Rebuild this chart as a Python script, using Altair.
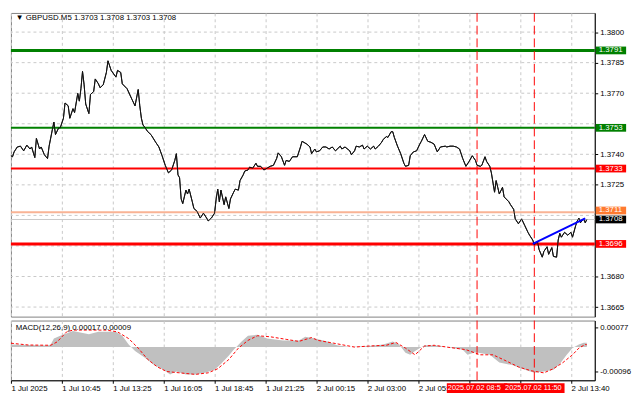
import json
import altair as alt
import pandas as pd

# ---------------- data ----------------
PRICE = [(0,1.37393),(1,1.37388),(2,1.37412),(4,1.37436),(6,1.37440),(8,1.37417),(10,1.37445),(12,1.37426),(13,1.37436),(15,1.37384),(16,1.37478),(18,1.37426),(19,1.37436),(21,1.37398),(23,1.37379),(24,1.37440),(26,1.37520),(27,1.37558),(28,1.37497),(30,1.37530),(31,1.37530),(33,1.37577),(34,1.37652),(36,1.37638),(37,1.37577),(39,1.37624),(40,1.37605),(42,1.37699),(43,1.37661),(44,1.37722),(45,1.37807),(46,1.37741),(47,1.37647),(49,1.37600),(50,1.37694),(52,1.37708),(53,1.37770),(55,1.37746),(56,1.37727),(58,1.37741),(60,1.37802),(61,1.37859),(63,1.37812),(66,1.37779),(67,1.37812),(69,1.37802),(70,1.37746),(73,1.37722),(76,1.37671),(78,1.37638),(80,1.37718),(81,1.37638),(82,1.37577),(83,1.37544),(84,1.37534),(86,1.37511),(88,1.37497),(91,1.37459),(93,1.37436),(95,1.37393),(97,1.37346),(99,1.37309),(101,1.37323),(103,1.37370),(104,1.37403),(105,1.37299),(106,1.37285),(107,1.37181),(108,1.37158),(110,1.37224),(111,1.37205),(112,1.37229),(114,1.37167),(115,1.37134),(117,1.37120),(119,1.37087),(121,1.37111),(123,1.37087),(124,1.37073),(126,1.37087),(128,1.37111),(129,1.37181),(130,1.37229),(131,1.37167),(132,1.37224),(134,1.37153),(135,1.37191),(137,1.37134),(138,1.37181),(140,1.37214),(141,1.37229),(143,1.37224),(144,1.37271),(146,1.37299),(147,1.37318),(149,1.37323),(150,1.37337),(152,1.37332),(154,1.37356),(155,1.37341),(157,1.37341),(159,1.37323),(161,1.37332),(163,1.37341),(165,1.37346),(167,1.37379),(168,1.37407),(170,1.37388),(172,1.37346),(173,1.37370),(175,1.37365),(177,1.37388),(180,1.37388),(182,1.37436),(183,1.37464),(186,1.37450),(188,1.37436),(189,1.37403),(191,1.37426),(192,1.37412),(194,1.37417),(196,1.37436),(198,1.37436),(200,1.37426),(202,1.37436),(204,1.37417),(207,1.37440),(208,1.37426),(210,1.37436),(213,1.37417),(214,1.37398),(216,1.37417),(217,1.37440),(219,1.37436),(221,1.37445),(222,1.37426),(224,1.37440),(226,1.37426),(228,1.37440),(229,1.37426),(231,1.37440),(233,1.37459),(234,1.37473),(236,1.37487),(237,1.37483),(239,1.37511),(240,1.37511),(241,1.37483),(243,1.37440),(245,1.37403),(247,1.37356),(248,1.37341),(250,1.37346),(251,1.37393),(253,1.37412),(255,1.37417),(257,1.37450),(258,1.37464),(260,1.37497),(262,1.37464),(264,1.37459),(266,1.37450),(268,1.37412),(270,1.37436),(273,1.37440),(274,1.37436),(276,1.37440),(278,1.37440),(280,1.37436),(282,1.37426),(284,1.37379),(286,1.37341),(288,1.37365),(290,1.37393),(292,1.37370),(293,1.37346),(295,1.37341),(296,1.37346),(298,1.37388),(299,1.37365),(301,1.37341),(302,1.37309),(304,1.37214),(305,1.37271),(306,1.37238),(307,1.37205),(309,1.37238),(310,1.37191),(313,1.37167),(314,1.37153),(316,1.37130),(317,1.37083),(319,1.37059),(321,1.37083),(323,1.37050),(325,1.37017),(326,1.37003),(328,1.36979),(329,1.36956),(331,1.36970),(332,1.36932),(334,1.36895),(335,1.36923),(337,1.36946),(338,1.36909),(340,1.36942),(341,1.36899),(343,1.36895),(344,1.36979),(345,1.37012),(346,1.36993),(348,1.37017),(350,1.37003),(352,1.37017),(353,1.36993),(355,1.37050),(356,1.37073),(357,1.37087),(358,1.37064),(360,1.37083),(361,1.37064),(362,1.37080)]

HIST = [(0,0.00010),(11,0.00008),(23,0.00006),(25,0.00010),(27,0.00033),(31,0.00044),(39,0.00062),(49,0.00050),(55,0.00060),(66,0.00060),(70,0.00044),(74,0.00010),(78,-0.00015),(84,-0.00040),(90,-0.00070),(96,-0.00088),(100,-0.00106),(104,-0.00095),(110,-0.00106),(116,-0.00106),(122,-0.00100),(128,-0.00088),(132,-0.00066),(137,-0.00033),(140,-0.00010),(145,0.00022),(149,0.00044),(155,0.00048),(161,0.00033),(171,0.00026),(181,0.00026),(185,0.00040),(191,0.00033),(199,0.00022),(205,0.00007),(213,0.00000),(225,0.00004),(234,0.00010),(240,0.00022),(244,0.00010),(248,-0.00022),(251,-0.00030),(254,-0.00015),(260,0.00007),(266,0.00007),(274,0.00000),(284,-0.00010),(287,-0.00030),(292,-0.00020),(301,-0.00030),(307,-0.00060),(315,-0.00070),(323,-0.00088),(329,-0.00100),(335,-0.00095),(341,-0.00088),(345,-0.00066),(349,-0.00033),(353,-0.00004),(357,0.00010),(360,0.00017),(362,0.00017)]

SIGNAL = [(0,0.00015),(11,0.00008),(25,0.00007),(29,0.00020),(35,0.00059),(39,0.00066),(52,0.00066),(60,0.00066),(67,0.00059),(74,0.00033),(80,-0.00004),(86,-0.00048),(92,-0.00077),(98,-0.00095),(106,-0.00100),(116,-0.00106),(124,-0.00100),(130,-0.00084),(137,-0.00048),(143,-0.00004),(149,0.00026),(155,0.00044),(163,0.00040),(173,0.00030),(181,0.00022),(189,0.00037),(193,0.00026),(203,0.00015),(216,0.00000),(225,0.00004),(236,0.00007),(242,0.00018),(248,-0.00004),(254,-0.00030),(260,0.00004),(266,0.00007),(274,0.00000),(286,-0.00010),(295,-0.00030),(303,-0.00030),(310,-0.00050),(319,-0.00077),(327,-0.00092),(335,-0.00100),(341,-0.00084),(347,-0.00060),(353,-0.00030),(357,-0.00004),(361,0.00010),(362,0.00009)]

LEVELS = [1.3791, 1.3753, 1.3733, 1.37116, 1.3708, 1.3696]
LEVEL_BOX_POS = [1.3791, 1.3753, 1.3733, 1.37124, 1.3708, 1.3696]
LEVEL_LABELS = ["1.3791", "1.3753", "1.3733", "1.3711", "1.3708", "1.3696"]
LEVEL_LINE_COLORS = ["#008000", "#008000", "#ff0000", "#f9b395", "#c8c8c8", "#ff0000"]
LEVEL_LINE_WIDTHS = [3, 2, 2, 2, 1, 3]
LEVEL_BOX_COLORS = ["#008000", "#008000", "#ff0000", "#ff7a30", "#000000", "#ff0000"]

PRICE_GRID = [1.3665, 1.3680, 1.3695, 1.3710, 1.3725, 1.3740, 1.3755, 1.3770, 1.3785, 1.3800]
PRICE_TICKS = [1.3665, 1.3680, 1.3725, 1.3740, 1.3770, 1.3785, 1.3800]  # others hidden by level boxes
TIME_LABELS = ["1 Jul 2025", "1 Jul 10:45", "1 Jul 13:25", "1 Jul 16:05", "1 Jul 18:45",
               "1 Jul 21:25", "2 Jul 00:15", "2 Jul 03:00", "2 Jul 05:40", "", "", "2 Jul 13:40"]
VLINES = [293, 329]
VLINE_LABELS = ["2025.07.02 08:50", "2025.07.02 11:50"]
TREND = [(328, 1.36960), (361, 1.37085)]
MACD_TICKS = [0.00077, 0.0, -0.00096]
MACD_TICK_LABELS = ["0.00077", "0.00", "-0.00096"]
TITLE = "\u25BC GBPUSD.M5  1.3703 1.3708 1.3703 1.3708"
MACD_TITLE = "MACD(12,26,9) 0.00017 0.00009"

# ---------------- layout / style ----------------
W, H1, H2 = 596, 310, 61
FONT = "Liberation Sans"
GRID = "#c8c8c8"

price_df = pd.DataFrame(PRICE, columns=["i", "p"])
hist_df = pd.DataFrame(HIST, columns=["i", "h"])
sig_df = pd.DataFrame(SIGNAL, columns=["i", "s"])
trend_df = pd.DataFrame(TREND, columns=["i", "p"])
grid_df = pd.DataFrame({"g": PRICE_GRID})
lev_df = pd.DataFrame({"v": LEVELS, "bp": LEVEL_BOX_POS, "label": LEVEL_LABELS,
                       "lc": LEVEL_LINE_COLORS, "w": LEVEL_LINE_WIDTHS, "bc": LEVEL_BOX_COLORS})
lev_df["lo"] = lev_df["bp"] - 0.00019
lev_df["hi"] = lev_df["bp"] + 0.00019
vl_df = pd.DataFrame({"i": VLINES, "label": VLINE_LABELS})
vl_df["x0"] = vl_df["i"] - 19
vl_df["x1"] = vl_df["i"] + 19

xscale = alt.Scale(domain=[0, 367], nice=False, zero=False)
pscale = alt.Scale(domain=[1.36603, 1.38094], nice=False, zero=False)
mscale = alt.Scale(domain=[-0.00129, 0.00103], nice=False, zero=False)

xgrid = list(range(0, 368, 16))
label_expr = ("datum.value % 32 == 0 ? " + json.dumps(TIME_LABELS) +
              "[datum.value / 32] : ''")

x_axis_price = alt.Axis(values=xgrid, labels=False, ticks=False, domain=False, grid=True,
                        gridDash=[3, 3], gridColor=GRID, title=None)
y_axis_price = alt.Axis(orient="right", values=PRICE_TICKS, format=".4f", grid=False,
                        tickSize=3, tickColor="black",
                        domainColor="black", labelFontSize=8, labelFont=FONT,
                        labelColor="black", labelPadding=2, title=None)
x_axis_macd = alt.Axis(values=xgrid, labelExpr=label_expr, grid=True, gridDash=[3, 3],
                       gridColor=GRID, tickSize=3, tickColor="black", domainColor="black",
                       labelAlign="left", labelFontSize=8, labelFont=FONT, labelColor="black",
                       labelPadding=1, labelOverlap=False, labelFlush=False, title=None)
macd_expr = ("datum.value > 0 ? '" + MACD_TICK_LABELS[0] + "' : datum.value < 0 ? '" +
             MACD_TICK_LABELS[2] + "' : '" + MACD_TICK_LABELS[1] + "'")
y_axis_macd = alt.Axis(orient="right", values=MACD_TICKS, labelExpr=macd_expr, grid=False,
                       tickSize=3, tickColor="black", domainColor="black", labelFontSize=8,
                       labelFont=FONT, labelColor="black", labelPadding=2, title=None)

# ---------------- price panel ----------------
price_grid = alt.Chart(grid_df).mark_rule(color=GRID, strokeDash=[3, 3], strokeWidth=1).encode(
    y=alt.Y("g:Q", scale=pscale))
base_line = alt.Chart(price_df).mark_line(color="#111111", strokeWidth=1).encode(
    x=alt.X("i:Q", scale=xscale, axis=x_axis_price),
    y=alt.Y("p:Q", scale=pscale, axis=y_axis_price),
)
levels = alt.Chart(lev_df).mark_rule().encode(
    y=alt.Y("v:Q", scale=pscale),
    color=alt.Color("lc:N", scale=None),
    strokeWidth=alt.StrokeWidth("w:Q", scale=None),
)
vlines_p = alt.Chart(vl_df).mark_rule(color="#ff0000", strokeDash=[9, 4], strokeWidth=1).encode(
    x=alt.X("i:Q", scale=xscale))
trend = alt.Chart(trend_df).mark_line(color="#0000ff", strokeWidth=2).encode(
    x=alt.X("i:Q", scale=xscale), y=alt.Y("p:Q", scale=pscale))
boxes = alt.Chart(lev_df).mark_rect().encode(
    y=alt.Y("lo:Q", scale=pscale), y2="hi:Q",
    x=alt.value(W + 1), x2=alt.value(W + 32),
    color=alt.Color("bc:N", scale=None),
)
box_text = alt.Chart(lev_df).mark_text(align="left", baseline="middle", font=FONT,
                                       fontSize=8, color="white").encode(
    y=alt.Y("bp:Q", scale=pscale), x=alt.value(W + 4), text="label:N")
title = alt.Chart(pd.DataFrame({"i": [3], "p": [1.38071], "t": [TITLE]})).mark_text(
    align="left", baseline="middle", font=FONT, fontSize=8, color="black").encode(
    x=alt.X("i:Q", scale=xscale), y=alt.Y("p:Q", scale=pscale), text="t:N")

price_panel = alt.layer(price_grid, base_line, levels, vlines_p, base_line, trend, boxes,
                        box_text, title).properties(width=W, height=H1)

# ---------------- MACD panel ----------------
hist = alt.Chart(hist_df).mark_area(color="#c0c0c0").encode(
    x=alt.X("i:Q", scale=xscale, axis=x_axis_macd),
    y=alt.Y("h:Q", scale=mscale, axis=y_axis_macd, stack=None),
    y2=alt.datum(0),
)
signal = alt.Chart(sig_df).mark_line(color="#ff0000", strokeDash=[3, 2], strokeWidth=1).encode(
    x=alt.X("i:Q", scale=xscale), y=alt.Y("s:Q", scale=mscale))
vlines_m = alt.Chart(vl_df).mark_rule(color="#ff0000", strokeDash=[9, 4], strokeWidth=1).encode(
    x=alt.X("i:Q", scale=xscale))
macd_title = alt.Chart(pd.DataFrame({"i": [3], "v": [0.00074], "t": [MACD_TITLE]})).mark_text(
    align="left", baseline="middle", font=FONT, fontSize=8, color="black").encode(
    x=alt.X("i:Q", scale=xscale), y=alt.Y("v:Q", scale=mscale), text="t:N")

macd_layers = [hist, signal, vlines_m, macd_title]
for k in range(len(VLINES)):
    one = vl_df.iloc[[k]]
    macd_layers.append(alt.Chart(one).mark_rect(color="#ff0000").encode(
        x=alt.X("x0:Q", scale=xscale), x2="x1:Q",
        y=alt.value(H2 + 3), y2=alt.value(H2 + 13)))
    macd_layers.append(alt.Chart(one).mark_text(align="left", baseline="middle", font=FONT,
                                                fontSize=7.5, color="white", dx=1,
                                                limit=58, ellipsis="\u200b").encode(
        x=alt.X("x0:Q", scale=xscale), y=alt.value(H2 + 8), text="label:N"))

macd_panel = alt.layer(*macd_layers).properties(width=W, height=H2)

chart = alt.vconcat(price_panel, macd_panel, spacing=2).properties(
    padding=0, background="white"
).configure_view(stroke="#808080", strokeWidth=1)

chart.save("out.html", embed_options={"renderer": "svg", "actions": False})
